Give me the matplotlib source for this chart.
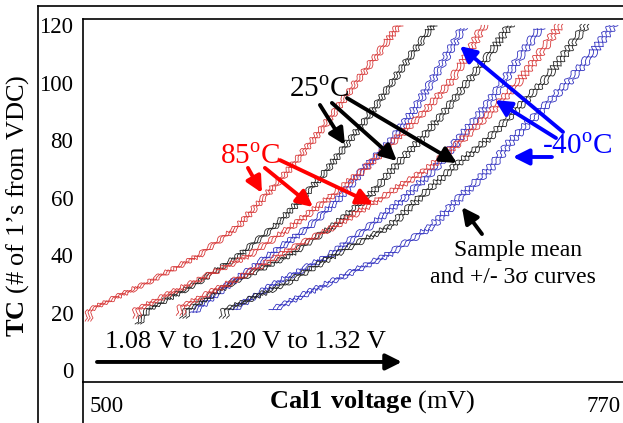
import numpy as np
import matplotlib.pyplot as plt
from matplotlib.lines import Line2D

plt.rcParams['font.family'] = ['Liberation Serif', 'DejaVu Serif']
plt.rcParams['mathtext.fontset'] = 'custom'
plt.rcParams['mathtext.rm'] = 'Liberation Serif'
plt.rcParams['mathtext.bf'] = 'Liberation Serif:bold'

# TC (# of 1's) vs Cal1 voltage (mV), sample mean curves
# supply 1.08 V
tc_r1 = [17, 21, 30, 40, 50, 60, 70, 80, 90, 100, 110, 120]
mv_r1 = [489.7, 490.8, 520.6, 550.5, 571.2, 585.3, 599.4, 611.9, 623.9, 635.3, 647.2, 658.6]
tc_k1 = [16, 21, 30, 40, 50, 60, 70, 80, 90, 100, 110, 120]
mv_k1 = [516.8, 522.3, 548.3, 572.2, 591.3, 606.5, 620.1, 632.0, 644.0, 654.8, 665.7, 677.1]
tc_b1 = [20, 30, 40, 50, 60, 70, 80, 90, 100, 110, 119]
mv_b1 = [546.7, 566.8, 588.5, 610.3, 626.6, 639.6, 654.8, 666.2, 676.0, 685.2, 693.4]
# supply 1.20 V
tc_r2 = [18, 21, 30, 40, 50, 60, 70, 80, 90, 100, 110, 120]
mv_r2 = [516.0, 516.3, 545.1, 577.7, 600.5, 621.1, 640.1, 656.4, 672.7, 686.3, 696.1, 704.8]
tc_k2 = [18, 21, 30, 40, 50, 60, 70, 80, 90, 100, 110, 120]
mv_k2 = [541.3, 544.0, 566.8, 599.4, 622.8, 641.8, 655.4, 670.0, 683.6, 695.6, 708.0, 718.9]
tc_b2 = [21, 30, 40, 50, 60, 70, 80, 90, 100, 110, 119]
mv_b2 = [568.4, 591.3, 621.1, 642.9, 661.9, 678.2, 690.7, 703.7, 715.1, 725.4, 735.2]
# supply 1.32 V
tc_r3 = [19, 22, 30, 40, 50, 60, 70, 80, 90, 100, 110, 120]
mv_r3 = [539.7, 540.7, 565.7, 594.0, 623.9, 649.4, 674.4, 692.8, 709.1, 723.3, 735.2, 746.1]
tc_k3 = [18, 21, 30, 40, 50, 60, 70, 80, 90, 100, 110, 120]
mv_k3 = [563.0, 564.6, 596.7, 623.9, 653.7, 670.0, 687.4, 706.4, 721.6, 736.8, 748.8, 760.2]
tc_b3 = [21, 30, 40, 50, 60, 70, 80, 90, 100, 110, 120]
mv_b3 = [590.2, 619.5, 652.6, 676.5, 691.8, 708.0, 720.0, 735.2, 750.4, 763.5, 774.9]

# 3 sigma spread (mV) of each curve
sig3 = [1.5, 1.5, 1.8, 1.8, 1.8, 2.0, 2.0, 2.0, 2.2]

curves = [(mv_r1, tc_r1, '#d83a3a'), (mv_k1, tc_k1, '#202020'), (mv_b1, tc_b1, '#3030c0'),
          (mv_r2, tc_r2, '#d83a3a'), (mv_k2, tc_k2, '#202020'), (mv_b2, tc_b2, '#3030c0'),
          (mv_r3, tc_r3, '#d83a3a'), (mv_k3, tc_k3, '#202020'), (mv_b3, tc_b3, '#3030c0')]

fig = plt.figure(figsize=(6.23, 4.23), dpi=100)
ax = fig.add_axes([83/623, 1 - 382/423, 540/623, 363/423])

for (mv, tc, col), s in zip(curves, sig3):
    mv = np.array(mv)
    for off in (-s, 0, s):
        ln, = ax.plot(mv + off, tc, color=col, lw=0.6)
        ln.set_sketch_params(1.6, 10, 3)

ax.set_xlim(487.0, 780.3)
ax.set_ylim(-4.17, 122.1)
ax.set_yticks([0, 20, 40, 60, 80, 100, 120])
ax.set_xticks([500, 770])
ax.tick_params(length=0, labelsize=16.5)
ax.tick_params(axis='y', pad=7)
ax.tick_params(axis='x', pad=10)
ax.spines['right'].set_visible(False)
for sp in ('left', 'top', 'bottom'):
    ax.spines[sp].set_linewidth(1.2)

# labels
fig.text(372/623, 1 - 402/423, r'$\mathbf{Cal1\ voltage}$ (mV)', fontsize=19,
         ha='center', va='center')
fig.text(18/623, 1 - 206/423, r'$\mathbf{TC}$ (# of 1’s from VDC)', fontsize=19,
         ha='center', va='center', rotation=90)

# frame lines outside the axes
fig.add_artist(Line2D([38/623, 38/623], [0, 1 - 6/423], color='k', lw=1.2))
fig.add_artist(Line2D([38/623, 1], [1 - 6/423, 1 - 6/423], color='k', lw=1.2))
fig.add_artist(Line2D([83/623, 83/623], [0, 1 - 382/423], color='k', lw=1.2))

arrow = dict(arrowstyle='-|>', lw=2.8, mutation_scale=24, shrinkA=0, shrinkB=0)

# 85 C
ax.text(577.7, 74.1, r'85$^{\rm o}$C', color='red', fontsize=21, ha='center', va='center')
for tail, tip in [((576.6, 70.3), (584.2, 61.6)), ((585.8, 70.3), (611.9, 56.7)),
                  ((594.0, 73.0), (644.5, 57.7))]:
    ax.annotate('', xy=tip, xytext=tail, arrowprops=dict(arrow, color='red'))

# 25 C
ax.text(615.2, 97.4, r'25$^{\rm o}$C', color='black', fontsize=21, ha='center', va='center')
for tail, tip in [((615.7, 92.2), (629.3, 78.3)), ((622.2, 92.9), (657.5, 72.7)),
                  ((630.4, 94.6), (690.1, 72.0))]:
    ax.annotate('', xy=tip, xytext=tail, arrowprops=dict(arrow, color='black'))

# -40 C
ax.text(755.3, 77.6, r'-40$^{\rm o}$C', color='blue', fontsize=21, ha='center', va='center')
for tail, tip in [((747.7, 82.8), (691.7, 112.7)), ((743.9, 80.7), (710.8, 93.9)),
                  ((741.7, 74.1), (720.5, 74.1))]:
    ax.annotate('', xy=tip, xytext=tail, arrowprops=dict(arrow, color='blue'))

# sample mean note
ax.annotate('', xy=(692.8, 56.7), xytext=(703.7, 47.3), arrowprops=dict(arrow, color='black'))
ax.text(723.3, 41.7, 'Sample mean', fontsize=17, ha='center', va='center')
ax.text(720.5, 32.3, 'and +/- 3σ curves', fontsize=17, ha='center', va='center')

# supply sweep
ax.text(498.9, 9.7, '1.08 V to 1.20 V to 1.32 V', fontsize=19, ha='left', va='center')
ax.annotate('', xy=(660.2, 2.8), xytext=(494.6, 2.8), arrowprops=dict(arrow, color='black'))

fig.savefig('out.png', dpi=100)
